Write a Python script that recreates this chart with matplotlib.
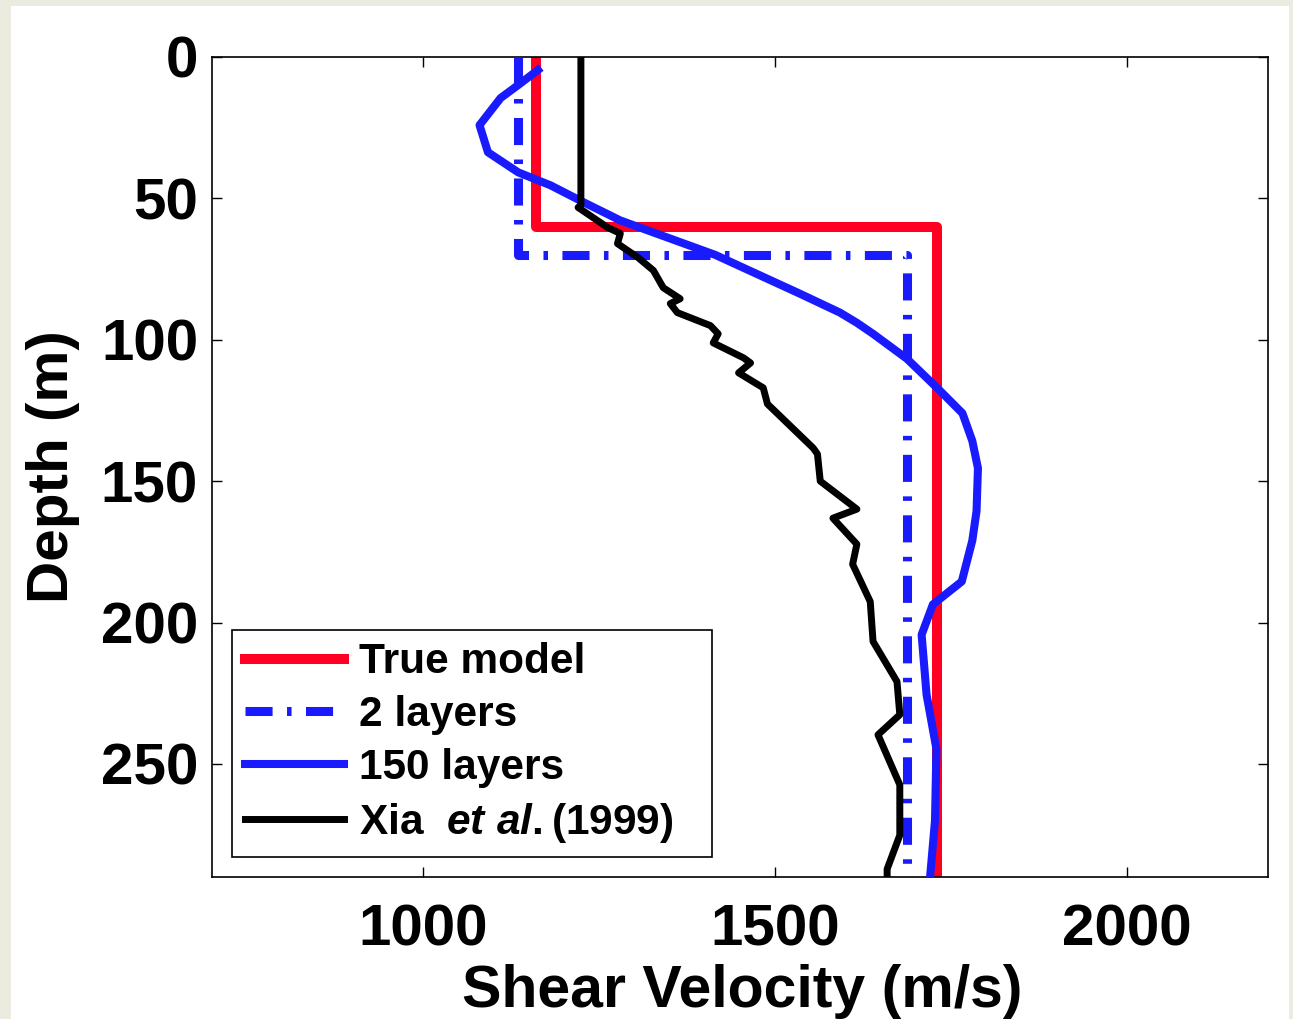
import matplotlib
matplotlib.use('Agg')
import matplotlib.pyplot as plt
from matplotlib.patches import Rectangle

# Font setup (Helvetica-like bold, as in the MATLAB figure)
plt.rcParams['font.family'] = ['Liberation Sans', 'DejaVu Sans']
plt.rcParams['font.weight'] = 'bold'
plt.rcParams['mathtext.fontset'] = 'custom'
plt.rcParams['mathtext.rm'] = 'Liberation Sans:bold'
plt.rcParams['mathtext.it'] = 'Liberation Sans:italic:bold'

# True model (step profile)
true_depth = [0, 60, 60, 290]
true_vel = [1160, 1160, 1730, 1730]

# 2-layer inversion
two_depth = [0, 70, 70, 290]
two_vel = [1135, 1135, 1687, 1687]

# 150-layer inversion
many_depth = [4.6, 9.9, 14.5, 24.1, 33.7, 40.8, 45.4, 51.4, 57.8, 70, 83.7, 90.4, 94,
              97.9, 106.7, 118, 126, 135.8, 145.4, 160.6, 171, 185.5, 193.6, 204.3,
              225.5, 244.7, 270, 290]
many_vel = [1163, 1135, 1110, 1080, 1092, 1135, 1181, 1228, 1280, 1415, 1535, 1592, 1616,
            1639, 1687, 1734, 1766, 1780, 1788, 1786, 1780, 1765, 1724, 1708,
            1715, 1729, 1727, 1720]

# Xia et al. (1999)
xia_depth = [0, 52.5, 53.2, 60.3, 62.4, 66.0, 70.9, 75.5, 81.6, 85.5, 87.2, 90.4, 95.0,
             97.9, 101.1, 106.4, 108.2, 111.7, 117.0, 122.7, 138.3, 140.4, 150.0, 159.9,
             163.1, 172.3, 179.4, 192.6, 206.7, 220.9, 232.6, 239.7, 257.4, 275.2, 287.2, 290]
xia_vel = [1224, 1224, 1220, 1262, 1280, 1276, 1305, 1327, 1341, 1365, 1351, 1361, 1408,
           1419, 1412, 1455, 1465, 1448, 1483, 1489, 1554, 1560, 1564, 1616,
           1582, 1616, 1610, 1635, 1639, 1673, 1677, 1646, 1677, 1677, 1659, 1659]

fig = plt.figure(figsize=(12.93, 10.19), dpi=100, facecolor='#ecebdf')
# white page area inside the beige border
fig.patches.append(Rectangle((11 / 1293, 0), (1289 - 11) / 1293, 1 - 6 / 1019,
                             transform=fig.transFigure, facecolor='white',
                             edgecolor='none', zorder=-10))

ax = fig.add_axes([212 / 1293, 1 - 877 / 1019, (1268 - 212) / 1293, (877 - 57) / 1019])

ax.plot(true_vel, true_depth, color='#ff0022', lw=7.2, label='True model', zorder=2)
ax.plot(two_vel, two_depth, color='#1a1aff', lw=6.5, dashes=(3, 1.6, 0.5, 1.6),
        label='2 layers', zorder=3)
ax.plot(many_vel, many_depth, color='#1a1aff', lw=5.8, label='150 layers', zorder=4,
        solid_joinstyle='round')
ax.plot(xia_vel, xia_depth, color='black', lw=5.0,
        label=r'Xia  $\mathit{et\ al.}$(1999)   ', zorder=5, solid_joinstyle='round')

ax.set_xlim(700, 2200)
ax.set_ylim(290, 0)
ax.set_xticks([1000, 1500, 2000])
ax.set_yticks([0, 50, 100, 150, 200, 250])

ax.tick_params(direction='in', top=True, right=True, length=7, width=1.0,
               labelsize=42, pad=10)
ax.tick_params(axis='x', pad=19)
for lab in ax.get_xticklabels() + ax.get_yticklabels():
    lab.set_fontweight('bold')
for sp in ax.spines.values():
    sp.set_linewidth(1.2)

ax.set_xlabel('Shear Velocity (m/s)', fontsize=42.5, fontweight='bold')
ax.set_ylabel('Depth (m)', fontsize=42, fontweight='bold')
ax.xaxis.set_label_coords(0.502, -0.106)
ax.yaxis.set_label_coords(-0.125, 0.5)

leg = ax.legend(loc='lower left', bbox_to_anchor=(0.019, 0.024),
                prop={'weight': 'bold', 'size': 30.5}, fancybox=False, framealpha=1,
                edgecolor='black', handlelength=2.35, handletextpad=0.35,
                labelspacing=0.3, borderpad=0.3, borderaxespad=0)
leg.get_frame().set_linewidth(1.2)

plt.savefig('out.png', dpi=100, facecolor=fig.get_facecolor())
